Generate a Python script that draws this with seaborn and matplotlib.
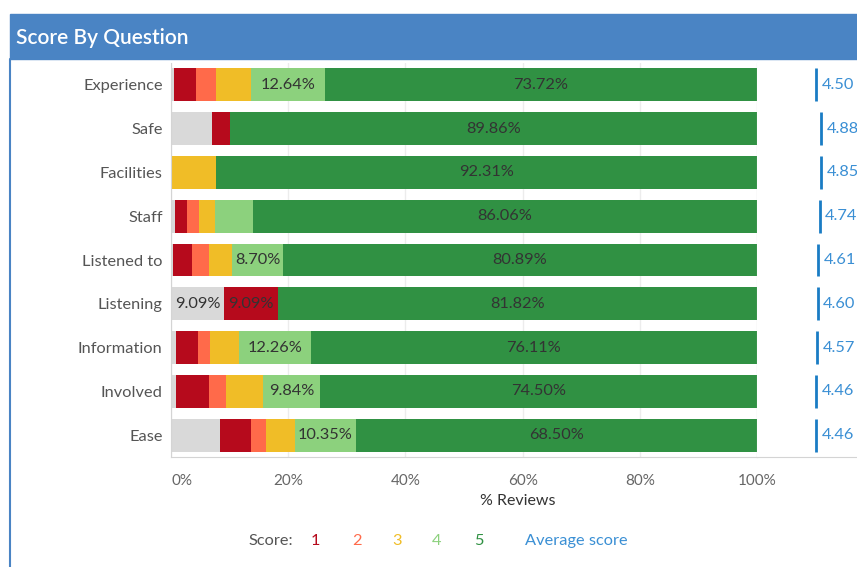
import pandas as pd
import numpy as np

import seaborn as sns
import matplotlib.pyplot as plt
from matplotlib.patches import Rectangle
from matplotlib.lines import Line2D

sns.set_style('white')
plt.rcParams['font.family'] = ['Lato', 'DejaVu Sans']

questions = ['Experience', 'Safe', 'Facilities', 'Staff', 'Listened to',
             'Listening', 'Information', 'Involved', 'Ease']
no_score = [0.44, 7.00, 0.00, 0.70, 0.26, 9.09, 0.90, 0.90, 8.33]
score1 = [3.90, 3.14, 0.00, 2.00, 3.37, 9.09, 3.76, 5.54, 5.30]
score2 = [3.30, 0.00, 0.00, 2.00, 2.85, 0.00, 2.00, 2.90, 2.62]
score3 = [6.00, 0.00, 7.69, 2.85, 3.93, 0.00, 4.97, 6.32, 4.90]
score4 = [12.64, 0.00, 0.00, 6.39, 8.70, 0.00, 12.26, 9.84, 10.35]
score5 = [73.72, 89.86, 92.31, 86.06, 80.89, 81.82, 76.11, 74.50, 68.50]
avg_score = [4.50, 4.88, 4.85, 4.74, 4.61, 4.60, 4.57, 4.46, 4.46]

keys = ['none', '1', '2', '3', '4', '5']
colors = {'none': '#d9d9d9', '1': '#b60a1c', '2': '#ff6a4a', '3': '#f0bd27',
          '4': '#8cd17d', '5': '#309143'}
avg_col = '#1a7cc4'
avg_txt = '#3a8fd4'
FS = 11.8

df = pd.DataFrame({'question': questions, 'none': no_score, '1': score1, '2': score2,
                   '3': score3, '4': score4, '5': score5})
cum = df[keys].cumsum(axis=1)
for k in keys:
    df['cum_' + k] = cum[k]
    df['left_' + k] = cum[k] - df[k]

W, H = 857, 567
fig = plt.figure(figsize=(W / 100, H / 100), dpi=100)

# header band + left border
fig.patches.append(Rectangle((10 / W, 1 - 59 / H), 1, 45 / H, transform=fig.transFigure,
                             color='#4a84c4', zorder=0))
fig.lines.append(Line2D([10 / W, 10 / W], [0, 1 - 59 / H], transform=fig.transFigure,
                        color='#4a84c4', lw=1.5))
fig.text(16 / W, 1 - 38 / H, 'Score By Question', color='white', fontsize=15,
         fontweight='semibold', va='center', ha='left')

top, bot = 1 - 63 / H, 1 - 457 / H
ax = fig.add_axes([171 / W, bot, (757 - 171) / W, top - bot])
ax2 = fig.add_axes([757 / W, bot, (W - 757) / W, top - bot])

# stacked bars: draw cumulative totals from the largest down
for k in keys[::-1]:
    sns.barplot(data=df, x='cum_' + k, y='question', color=colors[k], orient='h',
                width=0.75, saturation=1, errorbar=None, linewidth=0, ax=ax, zorder=2)

for i, row in df.iterrows():
    for k in keys:
        if row[k] >= 8.5:
            ax.text(row['left_' + k] + row[k] / 2, i, f'{row[k]:.2f}%', ha='center',
                    va='center', fontsize=FS, color='#333333', zorder=3)

ax.set_xlim(0, 100)
ax.set_xticks([0, 20, 40, 60, 80, 100])
ax.set_xticklabels(['0%', '20%', '40%', '60%', '80%', '100%'], color='#666666', fontsize=11)
ax.get_xticklabels()[0].set_ha('left')
ax.xaxis.grid(True, color='#ececec', lw=1, zorder=0)
ax.set_axisbelow(True)
ax.set_xlabel('')
ax.set_ylabel('')
ax.tick_params(axis='y', length=0, labelsize=FS, labelcolor='#555555', pad=6)
ax.tick_params(axis='x', length=0, pad=12)
for s in ['top', 'right']:
    ax.spines[s].set_visible(False)
for s in ['left', 'bottom']:
    ax.spines[s].set_color('#d4d4d4')
ax.spines['right'].set_visible(True)
ax.spines['right'].set_color('#ececec')
fig.text(518 / W, 1 - 501 / H, '% Reviews', color='#333333', fontsize=11.5,
         ha='center', va='center')

# average score panel
ypos = np.arange(len(questions))
ax2.set_ylim(ax.get_ylim())
ax2.set_xlim(0, 100 / 13.2)
ax2.vlines(avg_score, ypos - 0.375, ypos + 0.375, color=avg_col, lw=2)
for y, v in zip(ypos, avg_score):
    ax2.text(v + 0.42, y, f'{v:.2f}', color=avg_txt, fontsize=FS, va='center',
             ha='left', clip_on=False)
ax2.set_xticks([])
ax2.set_yticks([])
for s in ['top', 'right', 'left']:
    ax2.spines[s].set_visible(False)
ax2.spines['bottom'].set_color('#d4d4d4')

# legend row
fig.text(271 / W, 1 - 541 / H, 'Score:', color='#555555', fontsize=FS, ha='center', va='center')
for k, xp in zip(['1', '2', '3', '4', '5'], [315, 357, 397, 437, 479]):
    fig.text(xp / W, 1 - 541 / H, k, color=colors[k], fontsize=FS, ha='center', va='center')
fig.text(576 / W, 1 - 541 / H, 'Average score', color=avg_txt, fontsize=FS,
         ha='center', va='center')

plt.savefig('out.png', dpi=100)
